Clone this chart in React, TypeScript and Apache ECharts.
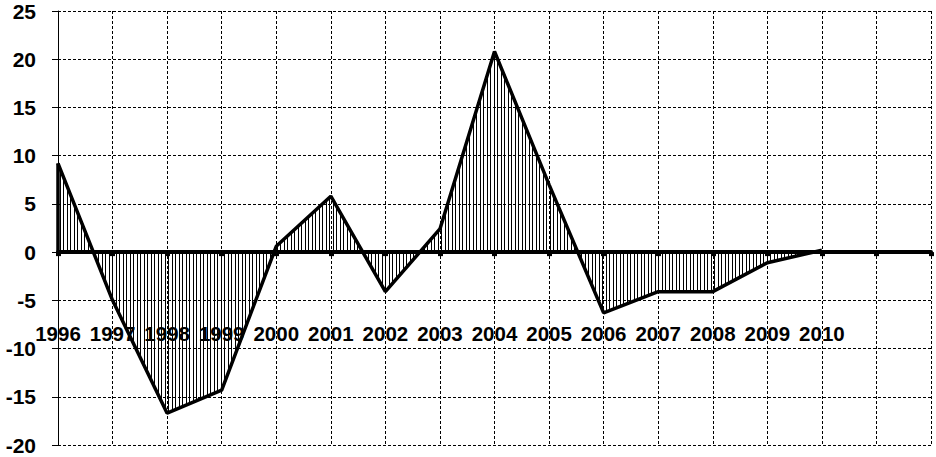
import React, { useEffect, useRef } from "react";
import * as echarts from "echarts";

const categories = ["1996","1997","1998","1999","2000","2001","2002","2003","2004","2005","2006","2007","2008","2009","2010","2011","2012"];
const tickLabels = ["1996","1997","1998","1999","2000","2001","2002","2003","2004","2005","2006","2007","2008","2009","2010","",""];
const values: (number | null)[] = [9.2, -5.0, -16.7, -14.3, 0.6, 5.8, -4.1, 2.4, 20.8, 7.0, -6.3, -4.1, -4.1, -1.1, 0.2, null, null];
const yTicks = [-20, -15, -10, -5, 0, 5, 10, 15, 20, 25];

export default function App() {
  const ref = useRef<HTMLDivElement>(null);
  useEffect(() => {
    if (!ref.current) return;
    const chart = echarts.init(ref.current, undefined, { renderer: "svg" });
    const c = document.createElement("canvas");
    c.width = 7;
    c.height = 4;
    const ctx = c.getContext("2d")!;
    ctx.fillStyle = "#000";
    ctx.fillRect(0, 0, 1, 4);
    ctx.fillRect(4, 0, 1, 4);
    const url = c.toDataURL();
    const font = "Liberation Sans";
    chart.setOption({
      animation: false,
      backgroundColor: "#fff",
      grid: { left: 58, right: 5, top: 11, bottom: 12, containLabel: false, outerBoundsMode: "none" },
      xAxis: [
        {
          type: "category",
          data: categories,
          boundaryGap: false,
          axisLine: { onZero: true, lineStyle: { color: "#000", width: 4 } },
          axisTick: { show: true, length: 4, lineStyle: { color: "#000", width: 5 } },
          axisLabel: { show: false },
          splitLine: { show: true, lineStyle: { color: "#000", width: 1, type: [3, 2] } },
          z: 5,
        },
        {
          type: "category",
          data: categories,
          boundaryGap: false,
          position: "bottom",
          offset: -122,
          axisLine: { show: false, onZero: false },
          axisTick: { show: false },
          splitLine: { show: false },
          axisLabel: {
            margin: 0,
            color: "#000",
            fontFamily: font,
            fontWeight: "bold",
            fontSize: 20.5,
            interval: 0,
            formatter: (_v: string, i: number) => tickLabels[i],
          },
          z: 6,
        },
      ],
      yAxis: {
        type: "value",
        min: yTicks[0],
        max: yTicks[yTicks.length - 1],
        interval: 5,
        axisLine: { show: true, onZero: false, lineStyle: { color: "#000", width: 1 } },
        axisTick: { show: true, length: 6, lineStyle: { color: "#000", width: 1 } },
        axisLabel: {
          margin: 22,
          color: "#000",
          fontFamily: font,
          fontWeight: "bold",
          fontSize: 21,
        },
        splitLine: { show: true, lineStyle: { color: "#000", width: 1, type: [3, 2] } },
      },
      series: [
        {
          type: "line",
          data: values,
          symbol: "none",
          connectNulls: false,
          lineStyle: { color: "#000", width: 3.5 },
          areaStyle: { color: { image: url, repeat: "repeat" }, opacity: 1 },
          z: 3,
          markLine: {
            silent: true,
            symbol: ["none", "none"],
            label: { show: false },
            lineStyle: { color: "#000", width: 3.5, type: "solid" },
            data: [[{ coord: [categories[0], 0] }, { coord: [categories[0], values[0]] }]],
          },
        },
      ],
    });
    return () => chart.dispose();
  }, []);
  return <div ref={ref} style={{ width: 936, height: 457, position: "absolute", left: 0, top: 0 }} />;
}
